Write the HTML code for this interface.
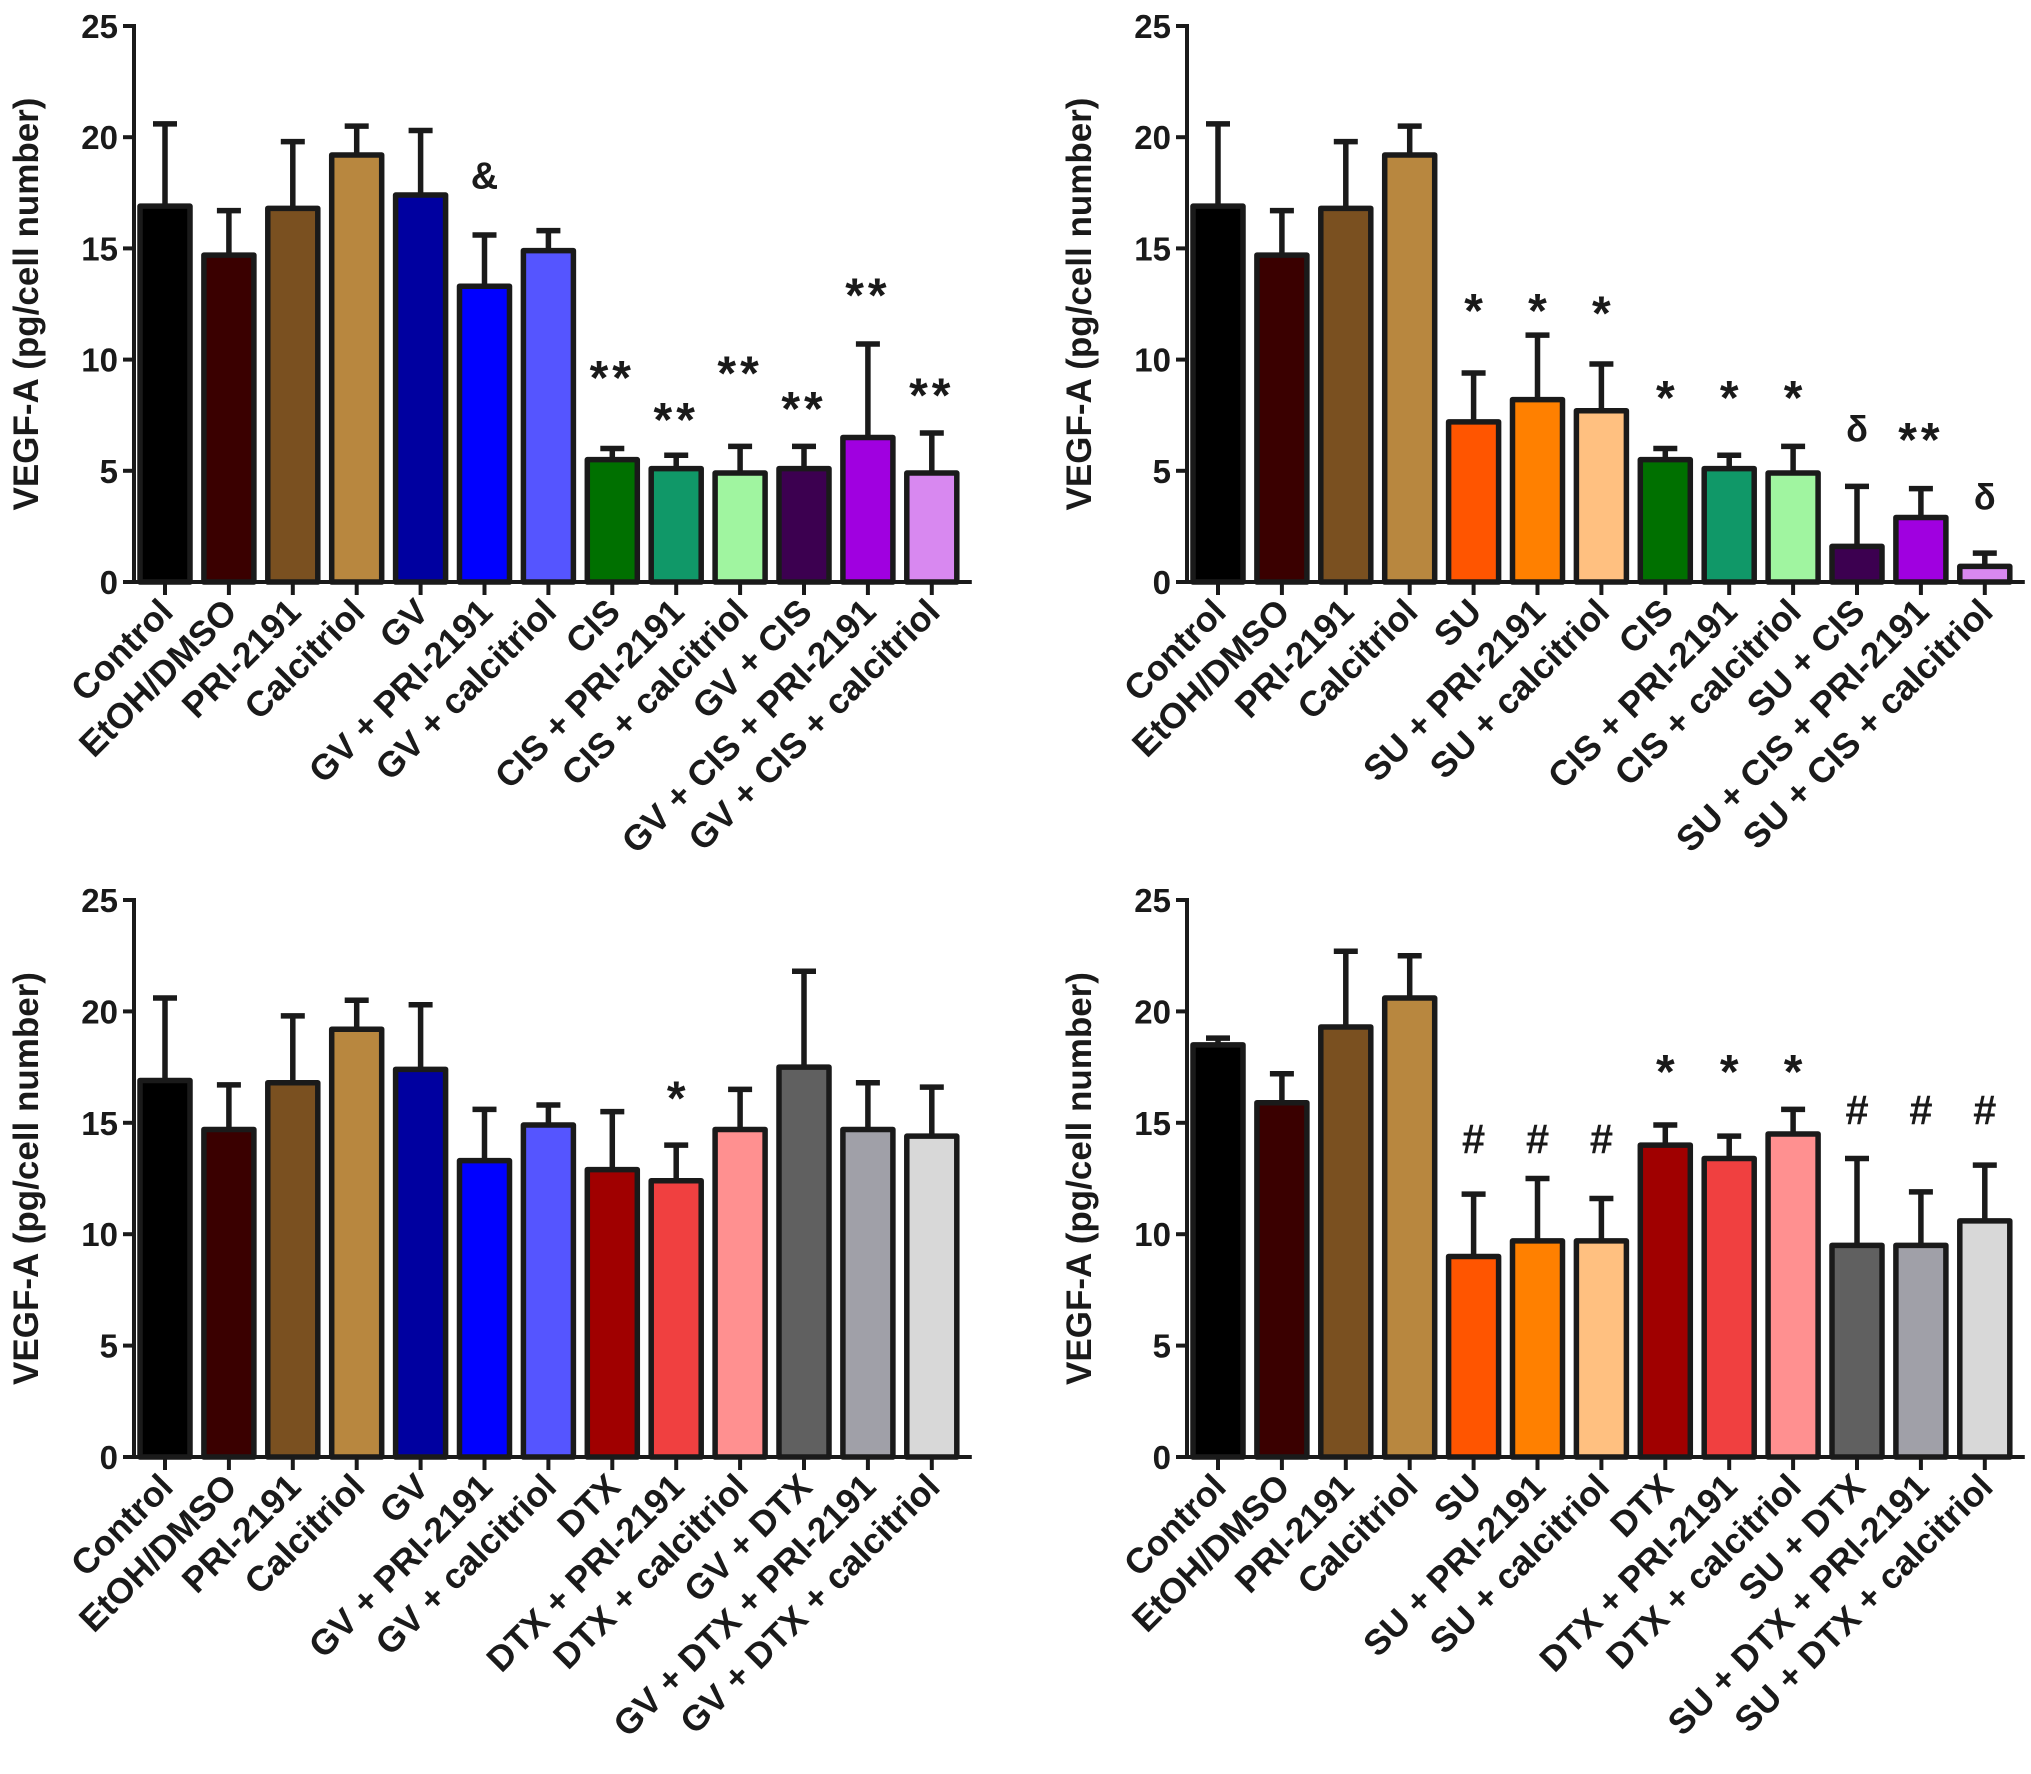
<!DOCTYPE html>
<html><head><meta charset="utf-8"><style>
html,body{margin:0;padding:0;background:#fff}
svg{display:block}
text{font-family:"Liberation Sans",Arial,sans-serif;font-weight:bold;fill:#1a1a1a}
</style></head><body>
<svg id="c" width="2031" height="1774" viewBox="0 0 2031 1774" xmlns="http://www.w3.org/2000/svg"></svg>
<script>
// ---- data ----
const catsA = ["Control","EtOH/DMSO","PRI-2191","Calcitriol","GV","GV + PRI-2191","GV + calcitriol","CIS","CIS + PRI-2191","CIS + calcitriol","GV + CIS","GV + CIS + PRI-2191","GV + CIS + calcitriol"];
const valsA = [16.9,14.7,16.8,19.2,17.4,13.3,14.9,5.5,5.1,4.9,5.1,6.5,4.9];
const errA  = [20.6,16.7,19.8,20.5,20.3,15.6,15.8,6.0,5.7,6.1,6.1,10.7,6.7];
const markA = ["","","","","","&","","**","**","**","**","**","**"];
const markPosA = [0,0,0,0,0,18.3,0,9.8,7.9,10.0,8.4,13.5,9.0];

const catsB = ["Control","EtOH/DMSO","PRI-2191","Calcitriol","SU","SU + PRI-2191","SU + calcitriol","CIS","CIS + PRI-2191","CIS + calcitriol","SU + CIS","SU + CIS + PRI-2191","SU + CIS + calcitriol"];
const valsB = [16.9,14.7,16.8,19.2,7.2,8.2,7.7,5.5,5.1,4.9,1.6,2.9,0.7];
const errB  = [20.6,16.7,19.8,20.5,9.4,11.1,9.8,6.0,5.7,6.1,4.3,4.2,1.3];
const markB = ["","","","","*","*","*","*","*","*","δ","**","δ"];
const markPosB = [0,0,0,0,12.8,12.8,12.7,8.9,8.9,8.9,6.9,7.0,3.85];

const catsC = ["Control","EtOH/DMSO","PRI-2191","Calcitriol","GV","GV + PRI-2191","GV + calcitriol","DTX","DTX + PRI-2191","DTX + calcitriol","GV + DTX","GV + DTX + PRI-2191","GV + DTX + calcitriol"];
const valsC = [16.9,14.7,16.8,19.2,17.4,13.3,14.9,12.9,12.4,14.7,17.5,14.7,14.4];
const errC  = [20.6,16.7,19.8,20.5,20.3,15.6,15.8,15.5,14.0,16.5,21.8,16.8,16.6];
const markC = ["","","","","","","","","*","","","",""];
const markPosC = [0,0,0,0,0,0,0,0,16.7,0,0,0,0];

const catsD = ["Control","EtOH/DMSO","PRI-2191","Calcitriol","SU","SU + PRI-2191","SU + calcitriol","DTX","DTX + PRI-2191","DTX + calcitriol","SU + DTX","SU + DTX + PRI-2191","SU + DTX + calcitriol"];
const valsD = [18.5,15.9,19.3,20.6,9.0,9.7,9.7,14.0,13.4,14.5,9.5,9.5,10.6];
const errD  = [18.8,17.2,22.7,22.5,11.8,12.5,11.6,14.9,14.4,15.6,13.4,11.9,13.1];
const markD = ["","","","","#","#","#","*","*","*","#","#","#"];
const markPosD = [0,0,0,0,14.3,14.3,14.3,17.9,17.9,17.9,15.6,15.6,15.6];

const yTicks = [0,5,10,15,20,25];

const colA = ["#000000","#3a0000","#7a5020","#b8873f","#0000a0","#0000ff","#5555ff","#007000","#109868","#a0f5a0","#3c0050","#a000e0","#d888f0"];
const colB = ["#000000","#3a0000","#7a5020","#b8873f","#ff5500","#ff8000","#ffc080","#007000","#109868","#a0f5a0","#3c0050","#a000e0","#d888f0"];
const colC = ["#000000","#3a0000","#7a5020","#b8873f","#0000a0","#0000ff","#5555ff","#a00000","#f04040","#ff9090","#606060","#a0a0a8","#d8d8d8"];
const colD = ["#000000","#3a0000","#7a5020","#b8873f","#ff5500","#ff8000","#ffc080","#a00000","#f04040","#ff9090","#606060","#a0a0a8","#d8d8d8"];

const NS = "http://www.w3.org/2000/svg";
const svg = document.getElementById('c');
function mk(tag, attrs, parent){
  const e = document.createElementNS(NS, tag);
  for (const k in attrs) e.setAttribute(k, attrs[k]);
  (parent||svg).appendChild(e);
  return e;
}

function panel(id, axX, firstTick, y0, y25, cats, vals, errs, marks, markPos, cols, titleX){
  const g = mk('g', {});
  
  
  const sp = 63.9;
  const yScale = v => y0 - (v/25)*(y0-y25);
  const xScale = i => firstTick + i*sp;
  const axEnd = xScale(cats.length-1) + 40;
  const ya = mk('line', {x1:axX, y1:y25-2, x2:axX, y2:y0+2, stroke:'#1a1a1a','stroke-width':4}, g);
  
  
  const xa = mk('line', {x1:axX-2, y1:y0, x2:axEnd, y2:y0, stroke:'#1a1a1a','stroke-width':4}, g);
  
  
  yTicks.forEach(t => {
    const y = yScale(t);
    mk('line', {x1:axX-11, y1:y, x2:axX, y2:y, stroke:'#1a1a1a','stroke-width':4}, g);
    const tx = mk('text', {x:axX-16, y:y+12, 'text-anchor':'end', 'font-size':33}, g);
    tx.textContent = t;
    
    
  });
  const tt = mk('text', {x:0, y:0, 'text-anchor':'middle', 'font-size':35, transform:`translate(${titleX},${(y0+y25)/2}) rotate(-90)`}, g);
  tt.textContent = 'VEGF-A (pg/cell number)';
  
  
  cats.forEach((c, i) => {
    const x = xScale(i);
    mk('line', {x1:x, y1:y0, x2:x, y2:y0+13, stroke:'#1a1a1a','stroke-width':4}, g);
    const ye = yScale(errs[i]), yv = yScale(vals[i]);
    const eb = mk('path', {d:`M${x},${yv} L${x},${ye} M${x-12},${ye} L${x+12},${ye}`, stroke:'#1a1a1a','stroke-width':5.5,fill:'none'}, g);
    
    
    const b = mk('rect', {x:x-25, y:yv, width:50, height:y0-yv, fill:cols[i], stroke:'#1a1a1a','stroke-width':5.5, 'stroke-linejoin':'round'}, g);
    
    
    if (marks[i]) {
      const fs = marks[i] === '&' ? 38 : (marks[i] === 'δ' ? 36 : (marks[i] === '#' ? 42 : 48));
      const off = marks[i].indexOf('*') >= 0 ? fs*0.62 : fs*0.36;
      const m = mk('text', {x:x, y:yScale(markPos[i]) + off, 'text-anchor':'middle', 'font-size':fs, 'font-weight': marks[i]==='δ' || marks[i].indexOf('*')>=0 ? 'normal':'bold', 'letter-spacing': marks[i]==='**'?4:0}, g);
      m.textContent = marks[i];
      
      
    }
    const lx = x + 10, ly = y0 + 32;
    const lab = mk('text', {x:0, y:0, 'text-anchor':'end', 'font-size':35.5, transform:`translate(${lx},${ly}) rotate(-45)`}, g);
    lab.textContent = c;
    
    
  });
}

panel('panel-gv-cis', 134, 165, 582, 26, catsA, valsA, errA, markA, markPosA, colA, 38);
panel('panel-su-cis', 1187, 1218, 582, 26, catsB, valsB, errB, markB, markPosB, colB, 1091);
panel('panel-gv-dtx', 134, 165, 1457, 900, catsC, valsC, errC, markC, markPosC, colC, 38);
panel('panel-su-dtx', 1187, 1218, 1457, 900, catsD, valsD, errD, markD, markPosD, colD, 1091);
</script>
</body></html>
